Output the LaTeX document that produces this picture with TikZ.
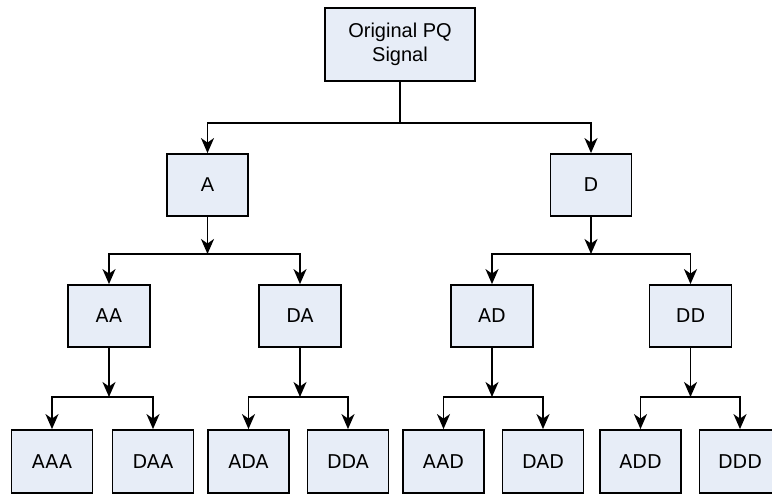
\documentclass[tikz,border=0pt]{standalone}
\usepackage{fontspec}
\setmainfont{Liberation Sans}
\newfontfamily\dvs{DejaVu Sans}
\usetikzlibrary{arrows.meta}
\definecolor{boxfill}{RGB}{231,237,247}
\begin{document}
\begin{tikzpicture}[x=1pt,y=-1pt,
  box/.style={draw=black,line width=1.8pt,fill=boxfill,inner sep=0pt,align=center,
    font=\fontsize{20}{24}\selectfont},
  lvl/.style={box,minimum width=81pt,minimum height=62pt},
  dv/.style={font=\dvs\fontsize{19}{23}\selectfont},
  conn/.style={line width=1.8pt},
  arr/.style={conn,-{Stealth[length=15pt,width=13pt,inset=4.5pt]}}]
\useasboundingbox (0,0) rectangle (772,494);
\node[box,minimum width=150pt,minimum height=73pt] (top) at (400,44.5) {Original PQ\\Signal};
\node[lvl] (A) at (207.5,185) {A};
\node[lvl,dv] (D) at (591,185) {D};
\node[lvl,dv,minimum width=82pt] (AA) at (109,316) {AA};
\node[lvl,dv,minimum width=82pt] (DA) at (300,316) {DA};
\node[lvl,dv,minimum width=82pt] (AD) at (492,316) {AD};
\node[lvl,dv,minimum width=82pt] (DD) at (690.5,316) {DD};
\node[lvl,dv,minimum height=63pt] (AAA) at (52,461.5) {AAA};
\node[lvl,dv,minimum height=63pt] (DAA) at (153,461.5) {DAA};
\node[lvl,dv,minimum height=63pt] (ADA) at (248.5,461.5) {ADA};
\node[lvl,dv,minimum height=63pt] (DDA) at (348,461.5) {DDA};
\node[lvl,dv,minimum height=63pt] (AAD) at (443.5,461.5) {AAD};
\node[lvl,dv,minimum height=63pt] (DAD) at (543,461.5) {DAD};
\node[lvl,dv,minimum height=63pt] (ADD) at (640.5,461.5) {ADD};
\node[lvl,dv,minimum height=63pt] (DDD) at (740,461.5) {DDD};
\coordinate (j0) at (400,123);
\coordinate (j1) at (207.5,254);
\coordinate (j2) at (591,254);
\coordinate (j3) at (109,397);
\coordinate (j4) at (300,397);
\coordinate (j5) at (492,397);
\coordinate (j6) at (690.5,397);
\draw[conn] (top) -- (j0);
\draw[arr] (j0) -| (A);
\draw[arr] (j0) -| (D);
\draw[arr] (A) -- (j1);
\draw[arr] (D) -- (j2);
\draw[arr] (j1) -| (AA);
\draw[arr] (j1) -| (DA);
\draw[arr] (j2) -| (AD);
\draw[arr] (j2) -| (DD);
\draw[arr] (AA) -- (j3);
\draw[arr] (DA) -- (j4);
\draw[arr] (AD) -- (j5);
\draw[arr] (DD) -- (j6);
\draw[arr] (j3) -| (AAA);
\draw[arr] (j3) -| (DAA);
\draw[arr] (j4) -| (ADA);
\draw[arr] (j4) -| (DDA);
\draw[arr] (j5) -| (AAD);
\draw[arr] (j5) -| (DAD);
\draw[arr] (j6) -| (ADD);
\draw[arr] (j6) -| (DDD);
\end{tikzpicture}
\end{document}
